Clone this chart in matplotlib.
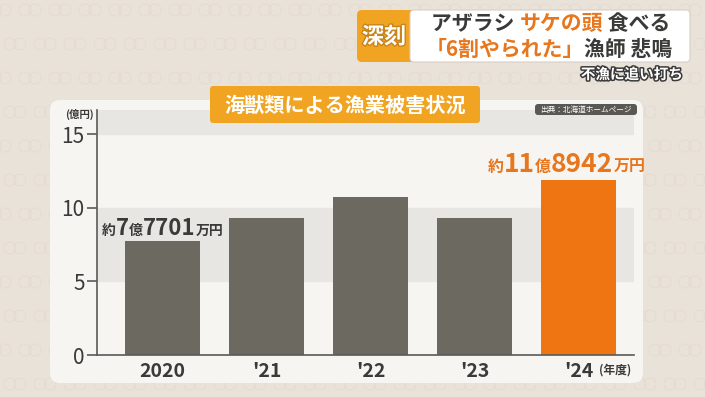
# -*- coding: utf-8 -*-
"""
Marine mammal fishery damage chart (Hokkaido)
"""
import matplotlib
matplotlib.use('Agg')
import matplotlib.pyplot as plt
from matplotlib.patches import FancyBboxPatch, Circle
from matplotlib.transforms import offset_copy
import matplotlib.patheffects as pe

plt.rcParams['font.family'] = ['Noto Sans CJK JP', 'DejaVu Sans']

# data (oku yen)
years = ['2020', "'21", "'22", "'23", "'24"]
damage = [7.7701, 9.28, 10.74, 9.30, 11.8942]
highlight = [False, False, False, False, True]
yticks = [0, 5, 10, 15]

# colors
c_bg = '#e9e2d9'
c_panel = '#f6f5f1'
c_band = '#e7e6e2'
c_gray = '#6b6960'
c_orange = '#ef7512'
c_otext = '#e8761c'
c_dark = '#3a3a38'
c_tag = '#f0a422'

fig = plt.figure(figsize=(7.05, 3.97), dpi=100)
fig.patch.set_facecolor(c_bg)


def pixel_axes(z):
    a = fig.add_axes([0, 0, 1, 1], zorder=z)
    a.set_xlim(0, 705)
    a.set_ylim(397, 0)
    a.axis('off')
    a.patch.set_alpha(0)
    return a


# background layer in pixel coords
bg = pixel_axes(0)
fg = pixel_axes(5)

# faint circle pattern
for row in range(12):
    for col in range(26):
        cx = col * 30 + (15 if row % 2 else 0)
        cy = row * 34 + 10
        for dx in (-5, 5):
            bg.add_patch(Circle((cx + dx, cy), 6, fill=False, ec='#ddd4c9', lw=0.7, alpha=0.45))

bg.add_patch(FancyBboxPatch((50, 100), 593, 283, boxstyle='round,pad=0,rounding_size=10',
                            fc=c_panel, ec='none'))

renderer = fig.canvas.get_renderer()


def rich(ax, x, y, parts, ha='center', dx=0, dy=0, **kw):
    # draw text pieces of mixed size side by side
    texts = []
    widths = []
    for s, size, color in parts:
        t = ax.text(x, y, s, fontsize=size, color=color, va='baseline', ha='left', **kw)
        texts.append(t)
        widths.append(t.get_window_extent(renderer).width)
    total = sum(widths)
    off = {'center': -total / 2, 'left': 0, 'right': -total}[ha] + dx
    for t, w in zip(texts, widths):
        t.set_transform(offset_copy(ax.transData, fig=fig, x=off, y=dy, units='dots'))
        off += w
    return texts


# headline box
fg.add_patch(FancyBboxPatch((357, 10), 60, 52, boxstyle='round,pad=0,rounding_size=5',
                            fc=c_tag, ec='none'))
fg.add_patch(FancyBboxPatch((410, 10), 280, 52, boxstyle='round,pad=0,rounding_size=4',
                            fc='white', ec='#d8d0c6', lw=0.8))
fg.text(384, 37, '深刻', fontsize=16, fontweight='bold', color='white', ha='center', va='center',
        path_effects=[pe.withStroke(linewidth=2, foreground='#c98418')])
rich(fg, 551, 30, [('アザラシ ', 15, c_dark), ('サケの頭', 15, c_otext), (' 食べる', 15, c_dark)],
     fontweight='bold')
rich(fg, 549, 56, [('「6割やられた」', 15, c_otext), ('漁師 悲鳴', 15, c_dark)], fontweight='bold')
fg.text(632, 74, '不漁に追い打ち', fontsize=10.5, fontweight='bold', color='white', ha='center', va='center',
        path_effects=[pe.withStroke(linewidth=2.2, foreground='#3a3a3a')])

# chart title box
fg.add_patch(FancyBboxPatch((210, 86), 270, 37, boxstyle='round,pad=0,rounding_size=3',
                            fc=c_tag, ec='none'))
fg.text(345, 105, '海獣類による漁業被害状況', fontsize=14.5, fontweight='bold', color='white',
        ha='center', va='center')

# source
fg.add_patch(FancyBboxPatch((535, 104), 102, 11, boxstyle='round,pad=0,rounding_size=3',
                            fc='#5a5853', ec='none'))
fg.text(586, 109.5, '出典：北海道ホームページ', fontsize=5.5, color='white', ha='center', va='center')

fg.text(79, 114, '(億円)', fontsize=7.5, color=c_dark, ha='center', va='center', fontweight='bold')
fg.text(615, 370, '(年度)', fontsize=8.5, fontweight='bold', color=c_dark, ha='center', va='center')

# main chart
ax = fig.add_axes([97 / 705, 1 - 355 / 397, (634 - 97) / 705, (355 - 110) / 397], zorder=2)
ax.set_facecolor('none')
ax.axhspan(15, 16.63, color=c_band, zorder=0)
ax.axhspan(5, 10, color=c_band, zorder=0)

x = list(range(len(years)))
colors = [c_orange if h else c_gray for h in highlight]
ax.bar(x, damage, width=0.72, color=colors, zorder=2)

ax.set_xlim(-0.63, 4.53)
ax.set_ylim(0, 16.63)
for s in ['top', 'right']:
    ax.spines[s].set_visible(False)
for s in ['left', 'bottom']:
    ax.spines[s].set_color('#5a5a58')
    ax.spines[s].set_linewidth(1.2)
ax.set_yticks(yticks)
ax.set_yticklabels([str(v) for v in yticks], fontsize=15, color=c_dark)
ax.tick_params(axis='y', direction='out', length=7, width=1.2, color='#5a5a58', pad=2)
ax.set_xticks(x)
ax.set_xticklabels(years, fontsize=14, fontweight='bold', color=c_dark)
ax.tick_params(axis='x', length=0, pad=5)

# value labels
rich(ax, 0, damage[0], [('約', 10, c_dark), ('7', 16, c_dark), ('億', 10, c_dark),
                        ('7701', 16, c_dark), ('万円', 10, c_dark)], dy=6, fontweight='bold')
rich(ax, 4, damage[4], [('約', 11.5, c_otext), ('11', 19, c_otext), ('億', 11.5, c_otext),
                        ('8942', 19, c_otext), ('万円', 11.5, c_otext)], dx=-12, dy=8, fontweight='bold')

fig.savefig('out.png', dpi=100, facecolor=fig.get_facecolor())
